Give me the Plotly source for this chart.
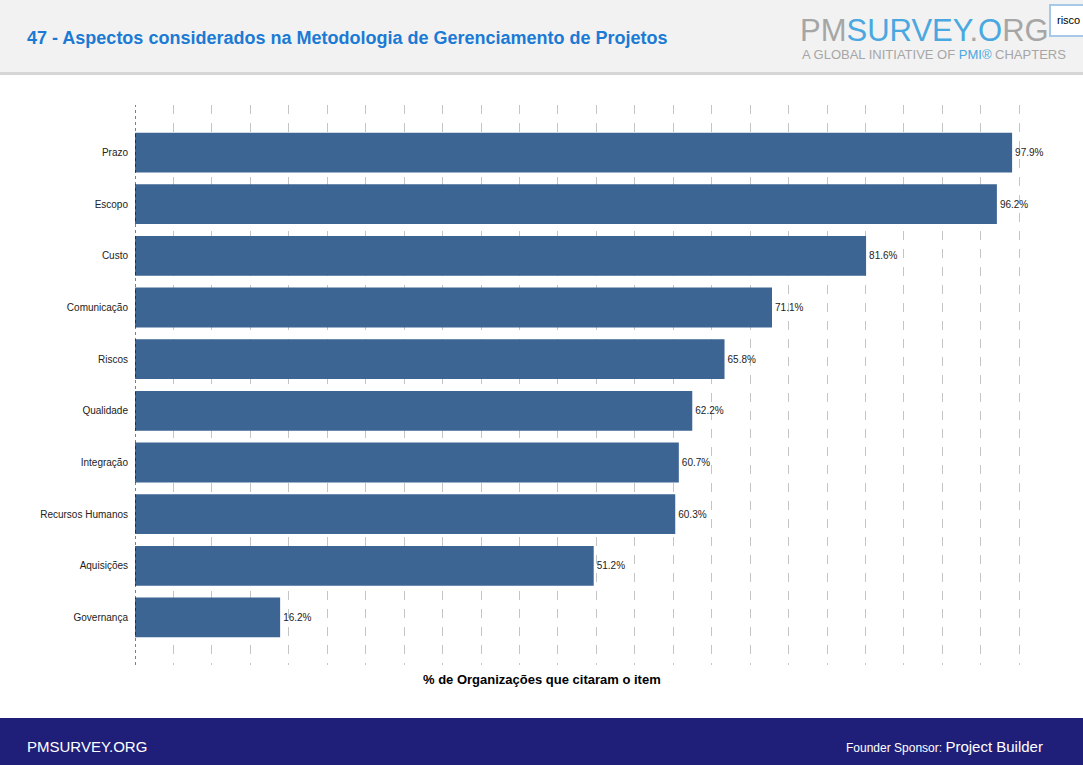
import plotly.graph_objects as go

categories = ["Prazo", "Escopo", "Custo", "Comunicação", "Riscos", "Qualidade",
              "Integração", "Recursos Humanos", "Aquisições", "Governança"]
values = [97.9, 96.2, 81.6, 71.1, 65.8, 62.2, 60.7, 60.3, 51.2, 16.2]
value_labels = [f"{v:.1f}%" for v in values]

title_text = "47 - Aspectos considerados na Metodologia de Gerenciamento de Projetos"
x_title = "% de Organizações que citaram o item"

W, H = 1083, 765
PL, PR, PT, PB = 135, 1026, 105, 665  # plot area in pixels

def py(y):  # pixel y -> paper y
    return (PB - y) / (PB - PT)

def px(x):  # pixel x -> paper x
    return (x - PL) / (PR - PL)

FONT = "Liberation Sans, Arial, sans-serif"

fig = go.Figure(go.Bar(
    x=values, y=categories, orientation="h",
    marker=dict(color="#3d6594", line=dict(width=0)),
    text=value_labels, textposition="outside", cliponaxis=False,
    textfont=dict(size=10, color="#222222", family=FONT),
    width=0.77,
))

shapes = [
    # header band
    dict(type="rect", xref="paper", yref="paper", x0=px(0), x1=px(W), y0=py(72), y1=py(0),
         fillcolor="#f2f2f2", line=dict(width=0), layer="below"),
    dict(type="rect", xref="paper", yref="paper", x0=px(0), x1=px(W), y0=py(75), y1=py(72),
         fillcolor="#d6d6d6", line=dict(width=0), layer="below"),
    # footer band
    dict(type="rect", xref="paper", yref="paper", x0=px(0), x1=px(W), y0=py(H), y1=py(718),
         fillcolor="#1f1f7a", line=dict(width=0), layer="below"),
    # dotted zero axis
    dict(type="line", xref="x", yref="paper", x0=0, x1=0, y0=0, y1=1,
         line=dict(color="#000000", width=1, dash="dot")),
    # tooltip box
    dict(type="rect", xref="paper", yref="paper", x0=px(1050), x1=px(1090), y0=py(36), y1=py(5),
         fillcolor="#ffffff", line=dict(color="#a8c8e8", width=2)),
]

annotations = [
    dict(text=f"<b>{title_text}</b>", xref="paper", yref="paper", x=px(25), y=py(38),
         xanchor="left", yanchor="middle", showarrow=False,
         font=dict(size=18, color="#1a7ad4", family=FONT)),
    dict(text="<span style='color:#a6a6a6'>PM</span><span style='color:#4aa8e0'>SURVEY</span>"
              "<span style='color:#a6a6a6'>.</span><span style='color:#4aa8e0'>O</span>"
              "<span style='color:#a6a6a6'>RG</span>",
         xref="paper", yref="paper", x=px(798), y=py(30), xanchor="left", yanchor="middle",
         showarrow=False, font=dict(size=31, family=FONT)),
    dict(text="A GLOBAL INITIATIVE OF <span style='color:#4aa8e0'>PMI®</span> CHAPTERS",
         xref="paper", yref="paper", x=px(800), y=py(54), xanchor="left", yanchor="middle",
         showarrow=False, font=dict(size=13, color="#a6a6a6", family=FONT)),
    dict(text="risco", xref="paper", yref="paper", x=px(1055), y=py(20), xanchor="left",
         yanchor="middle", showarrow=False, font=dict(size=11, color="#000000", family=FONT)),
    dict(text=f"<b>{x_title}</b>", xref="paper", yref="paper", x=px(542), y=py(679),
         xanchor="center", yanchor="middle", showarrow=False,
         font=dict(size=13, color="#000000", family=FONT)),
    dict(text="PMSURVEY.ORG", xref="paper", yref="paper", x=px(25), y=py(746),
         xanchor="left", yanchor="middle", showarrow=False,
         font=dict(size=15, color="#ffffff", family=FONT)),
    dict(text="<span style='font-size:12px'>Founder Sponsor: </span>Project Builder",
         xref="paper", yref="paper", x=px(1045), y=py(746),
         xanchor="right", yanchor="middle", showarrow=False,
         font=dict(size=15, color="#ffffff", family=FONT)),
]

fig.update_layout(
    width=W, height=H,
    margin=dict(l=PL, r=W - PR, t=PT, b=H - PB, pad=0),
    paper_bgcolor="#ffffff", plot_bgcolor="#ffffff",
    showlegend=False,
    shapes=shapes, annotations=annotations,
    font=dict(family=FONT),
    xaxis=dict(range=[0, 99.45], dtick=98.7 / 23, tick0=0, showticklabels=False,
               showgrid=True, gridcolor="#c4c4c4", griddash="dash", gridwidth=1,
               zeroline=False, showline=False, ticks=""),
    yaxis=dict(categoryorder="array", categoryarray=categories, autorange=False,
               range=[9.92, -0.92], showgrid=False, zeroline=False, showline=False,
               ticks="", ticklabelstandoff=6,
               tickfont=dict(size=10, color="#222222", family=FONT)),
)

fig.write_html("out.html", config={"displayModeBar": False},
               post_script="document.body.style.margin='0';")
